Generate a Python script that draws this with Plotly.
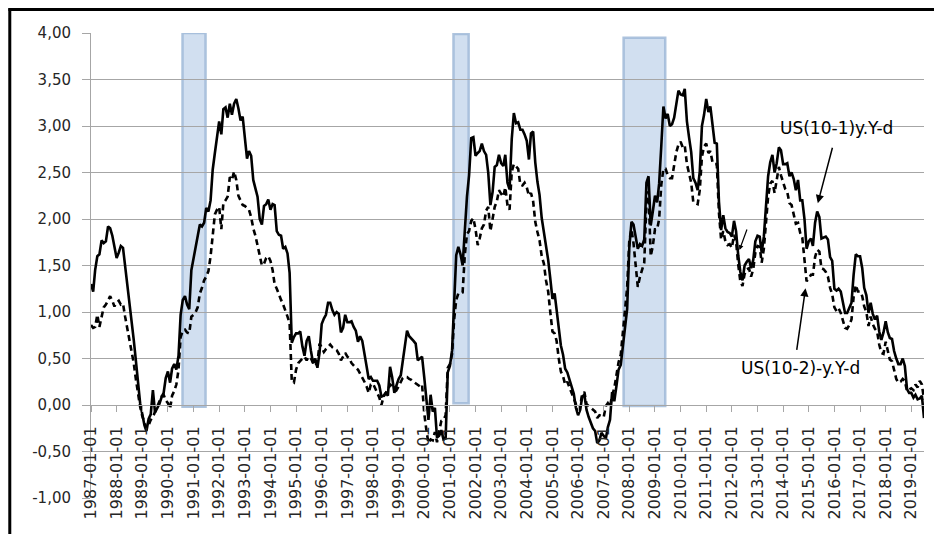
import pandas as pd
import plotly.graph_objects as go

# US 10y-1y spread (solid), monthly, first point plotted at 1987-01
spread_10_1 = (
    [1.30, 1.22, 1.45, 1.60, 1.62, 1.77, 1.74, 1.76, 1.92, 1.90, 1.82, 1.72]
    + [1.58, 1.64, 1.71, 1.69, 1.50, 1.32, 1.12, 0.92, 0.70, 0.48, 0.25, 0.02]
    + [-0.10, -0.22, -0.28, -0.15, -0.10, 0.16, -0.08, -0.04, 0.01, 0.08, 0.13, 0.29]
    + [0.36, 0.24, 0.39, 0.44, 0.38, 0.53, 0.97, 1.13, 1.17, 1.08, 1.03, 1.45]
    + [1.58, 1.71, 1.80, 1.94, 1.92, 1.96, 2.12, 2.08, 2.20, 2.53, 2.71, 2.88]
    + [3.05, 2.91, 3.18, 3.20, 3.09, 3.24, 3.12, 3.24, 3.29, 3.19, 3.06, 3.10]
    + [2.87, 2.65, 2.73, 2.68, 2.42, 2.34, 2.24, 2.00, 1.94, 2.14, 2.16, 2.21]
    + [2.10, 2.16, 2.15, 1.87, 1.83, 1.82, 1.68, 1.70, 1.63, 1.42, 0.67, 0.73]
    + [0.77, 0.77, 0.79, 0.63, 0.53, 0.69, 0.74, 0.58, 0.45, 0.50, 0.40, 0.56]
    + [0.87, 0.93, 0.97, 1.10, 1.10, 1.02, 0.97, 1.00, 0.98, 0.78, 0.83, 0.97]
    + [0.89, 0.89, 0.90, 0.84, 0.80, 0.68, 0.74, 0.69, 0.57, 0.42, 0.28, 0.30]
    + [0.26, 0.26, 0.26, 0.21, 0.09, 0.10, 0.13, 0.10, 0.41, 0.30, 0.13, 0.21]
    + [0.28, 0.32, 0.48, 0.66, 0.80, 0.74, 0.72, 0.69, 0.66, 0.48, 0.50, 0.52]
    + [0.30, 0.04, -0.16, 0.11, -0.07, -0.03, -0.35, -0.33, -0.27, -0.37, -0.36, 0.35]
    + [0.42, 0.59, 1.16, 1.61, 1.70, 1.62, 1.50, 1.91, 2.24, 2.47, 2.87, 2.88]
    + [2.68, 2.71, 2.73, 2.81, 2.73, 2.69, 2.50, 2.15, 2.29, 2.56, 2.58, 2.69]
    + [2.60, 2.57, 2.69, 2.39, 2.32, 2.86, 3.14, 3.03, 3.04, 2.96, 2.96, 2.91]
    + [2.84, 2.64, 2.92, 2.94, 2.61, 2.40, 2.26, 2.01, 1.87, 1.69, 1.56, 1.36]
    + [1.14, 1.20, 1.02, 0.81, 0.64, 0.54, 0.39, 0.35, 0.28, 0.21, 0.12, -0.03]
    + [-0.11, -0.05, 0.09, 0.11, -0.05, -0.13, -0.20, -0.25, -0.28, -0.41, -0.38, -0.30]
    + [-0.33, -0.36, -0.24, -0.16, 0.14, 0.04, 0.20, 0.38, 0.43, 0.65, 0.84, 1.03]
    + [1.69, 1.97, 1.94, 1.82, 1.68, 1.73, 1.71, 1.78, 2.39, 2.46, 1.93, 2.08]
    + [2.25, 2.18, 2.38, 2.79, 3.21, 3.08, 3.13, 3.00, 3.02, 3.09, 3.22, 3.38]
    + [3.34, 3.33, 3.40, 3.05, 2.88, 2.72, 2.44, 2.39, 2.31, 2.51, 3.00, 3.12]
    + [3.29, 3.15, 3.21, 2.98, 2.82, 2.81, 2.19, 1.88, 2.04, 1.90, 1.86, 1.85]
    + [1.81, 1.98, 1.87, 1.61, 1.43, 1.34, 1.50, 1.54, 1.57, 1.47, 1.56, 1.76]
    + [1.82, 1.81, 1.64, 1.81, 2.16, 2.46, 2.61, 2.69, 2.50, 2.60, 2.77, 2.74]
    + [2.59, 2.59, 2.60, 2.46, 2.50, 2.43, 2.31, 2.42, 2.20, 2.20, 2.00, 1.68]
    + [1.76, 1.79, 1.71, 1.96, 2.08, 2.02, 1.79, 1.80, 1.81, 1.78, 1.59, 1.55]
    + [1.25, 1.23, 1.25, 1.22, 1.09, 0.99, 0.99, 1.04, 1.10, 1.40, 1.62, 1.60]
    + [1.60, 1.47, 1.26, 1.18, 0.99, 1.10, 0.98, 0.92, 0.96, 0.79, 0.70, 0.78]
    + [0.90, 0.78, 0.72, 0.71, 0.58, 0.50, 0.44, 0.44, 0.50, 0.42, 0.17, 0.13]
    + [0.13, 0.08, 0.11, 0.06, 0.07, 0.10, -0.14]
)

# US 10y-2y spread (dashed)
spread_10_2 = (
    [0.86, 0.83, 0.84, 0.97, 0.84, 0.95, 1.05, 1.08, 1.12, 1.17, 1.12, 1.06]
    + [1.10, 1.12, 1.08, 1.09, 0.95, 0.82, 0.70, 0.60, 0.45, 0.28, 0.12, -0.02]
    + [-0.12, -0.20, -0.25, -0.22, -0.16, -0.13, -0.08, -0.02, 0.04, 0.09, 0.11, 0.05]
    + [0.02, -0.04, 0.10, 0.15, 0.22, 0.38, 0.73, 0.80, 0.81, 0.78, 0.77, 0.95]
    + [0.97, 1.00, 1.05, 1.20, 1.26, 1.34, 1.38, 1.44, 1.60, 1.85, 2.05, 2.10]
    + [2.13, 1.89, 2.17, 2.20, 2.24, 2.45, 2.42, 2.51, 2.42, 2.25, 2.20, 2.15]
    + [2.14, 2.12, 2.10, 2.02, 1.90, 1.82, 1.72, 1.60, 1.50, 1.52, 1.58, 1.60]
    + [1.55, 1.45, 1.30, 1.25, 1.18, 1.13, 1.08, 1.02, 0.95, 0.88, 0.25, 0.24]
    + [0.38, 0.45, 0.48, 0.50, 0.52, 0.48, 0.52, 0.50, 0.45, 0.42, 0.45, 0.66]
    + [0.62, 0.57, 0.60, 0.63, 0.65, 0.62, 0.60, 0.59, 0.55, 0.48, 0.52, 0.56]
    + [0.52, 0.50, 0.45, 0.42, 0.40, 0.38, 0.34, 0.30, 0.25, 0.20, 0.13, 0.22]
    + [0.23, 0.18, 0.13, 0.08, 0.00, 0.09, 0.13, 0.16, 0.22, 0.20, 0.18, 0.16]
    + [0.20, 0.25, 0.29, 0.30, 0.30, 0.28, 0.27, 0.25, 0.23, 0.22, 0.20, 0.22]
    + [-0.09, -0.27, -0.41, -0.37, -0.38, -0.29, -0.40, -0.28, -0.17, -0.16, -0.11, 0.40]
    + [0.44, 0.55, 0.91, 1.13, 1.20, 1.20, 1.21, 1.61, 1.84, 1.87, 1.98, 2.01]
    + [1.89, 1.72, 1.79, 1.90, 1.94, 2.09, 2.13, 1.87, 2.03, 2.13, 2.19, 2.31]
    + [2.27, 2.24, 2.34, 2.15, 2.10, 2.51, 2.59, 2.56, 2.54, 2.37, 2.36, 2.39]
    + [2.34, 2.25, 2.28, 2.19, 1.97, 1.86, 1.77, 1.60, 1.52, 1.34, 1.22, 1.00]
    + [0.79, 0.77, 0.69, 0.50, 0.36, 0.31, 0.22, 0.25, 0.19, 0.12, 0.07, 0.02]
    + [-0.05, -0.01, 0.12, 0.14, 0.01, -0.01, -0.03, -0.05, -0.07, -0.14, -0.11, -0.12]
    + [-0.13, -0.01, 0.02, -0.02, 0.10, 0.18, 0.33, 0.46, 0.54, 0.80, 0.98, 1.26]
    + [1.77, 1.89, 1.74, 1.52, 1.27, 1.38, 1.46, 1.53, 2.17, 2.30, 1.60, 1.71]
    + [1.89, 1.89, 2.00, 2.37, 2.54, 2.54, 2.47, 2.44, 2.44, 2.60, 2.72, 2.80]
    + [2.83, 2.77, 2.79, 2.59, 2.48, 2.39, 2.18, 2.17, 2.16, 2.31, 2.67, 2.78]
    + [2.81, 2.71, 2.73, 2.61, 2.59, 2.59, 2.07, 1.78, 1.87, 1.76, 1.72, 1.73]
    + [1.69, 1.83, 1.76, 1.51, 1.33, 1.28, 1.41, 1.46, 1.47, 1.38, 1.46, 1.64]
    + [1.71, 1.70, 1.53, 1.68, 1.97, 2.24, 2.38, 2.41, 2.28, 2.42, 2.56, 2.47]
    + [2.38, 2.32, 2.29, 2.17, 2.15, 2.03, 1.95, 1.96, 1.85, 1.80, 1.57, 1.33]
    + [1.36, 1.40, 1.40, 1.59, 1.67, 1.65, 1.47, 1.46, 1.43, 1.38, 1.26, 1.19]
    + [1.05, 1.01, 1.04, 0.99, 0.91, 0.83, 0.82, 0.86, 0.92, 1.16, 1.29, 1.22]
    + [1.22, 1.17, 1.06, 1.00, 0.85, 0.95, 0.87, 0.82, 0.79, 0.65, 0.56, 0.55]
    + [0.68, 0.56, 0.49, 0.47, 0.38, 0.28, 0.24, 0.25, 0.28, 0.26, 0.15, 0.17]
    + [0.18, 0.16, 0.22, 0.19, 0.26, 0.22, 0.06]
)

first_month = "1987-01-01"
x_tick_years = list(range(1987, 2020))
x_tick_labels = [f"{y}-01-01" for y in x_tick_years]
y_tick_values = [-1.0, -0.5, 0.0, 0.5, 1.0, 1.5, 2.0, 2.5, 3.0, 3.5, 4.0]
y_tick_labels = ["-1,00", "-0,50", "0,00", "0,50", "1,00", "1,50",
                 "2,00", "2,50", "3,00", "3,50", "4,00"]

# recession bands (shaded)
recession_start = ["1990-07-28", "2001-02-21", "2007-10-12"]
recession_end = ["1991-06-21", "2001-09-25", "2009-05-27"]
recession_low = [-0.02, 0.02, -0.01]
recession_high = [4.0, 3.99, 3.95]

label_10_1 = "US(10-1)y.Y-d"
label_10_2 = "US(10-2)-y.Y-d"

dates = pd.date_range(first_month, periods=len(spread_10_1), freq="MS")

fig = go.Figure()
fig.add_trace(go.Scatter(x=dates, y=spread_10_1, mode="lines", name=label_10_1,
                         line=dict(color="black", width=2.6)))
fig.add_trace(go.Scatter(x=dates, y=spread_10_2, mode="lines", name=label_10_2,
                         line=dict(color="black", width=2.6, dash="6px,4px")))

shapes = []
for s, e, lo, hi in zip(recession_start, recession_end, recession_low, recession_high):
    shapes.append(dict(type="rect", xref="x", yref="y", x0=s, x1=e, y0=lo, y1=hi,
                       fillcolor="rgba(190,210,234,0.7)",
                       line=dict(color="rgba(160,186,216,0.85)", width=2.5),
                       layer="below"))
# outer frame (left and top edges of the original picture)
shapes.append(dict(type="line", xref="paper", yref="paper", x0=-0.0975, x1=-0.0975,
                   y0=-0.08, y1=1.053, line=dict(color="black", width=3)))
shapes.append(dict(type="line", xref="paper", yref="paper", x0=-0.0992, x1=1.02,
                   y0=1.0505, y1=1.0505, line=dict(color="black", width=3)))

annotations = [
    dict(x="2016-01-28", y=2.975, xref="x", yref="y", text=label_10_1, showarrow=False,
         font=dict(size=17, color="black")),
    dict(x="2014-09-03", y=0.395, xref="x", yref="y", text=label_10_2, showarrow=False,
         font=dict(size=17, color="black")),
    dict(x="2015-05-10", y=2.17, xref="x", yref="y", text="", showarrow=True,
         ax=15, ay=-57, arrowhead=2, arrowsize=1.1, arrowwidth=1.5, arrowcolor="black"),
    dict(x="2014-11-16", y=1.255, xref="x", yref="y", text="", showarrow=True,
         ax=-9, ay=63, arrowhead=2, arrowsize=1.1, arrowwidth=1.5, arrowcolor="black"),
    dict(x="2012-04-19", y=1.667, xref="x", yref="y", text="", showarrow=True,
         ax=8, ay=-22, arrowhead=2, arrowsize=0.8, arrowwidth=1.2, arrowcolor="black"),
]

fig.update_layout(
    width=934, height=534,
    margin=dict(l=91, r=10, t=33, b=36, autoexpand=False),
    paper_bgcolor="white", plot_bgcolor="white",
    showlegend=False,
    font=dict(family="DejaVu Sans", size=15, color="#262626"),
    shapes=shapes, annotations=annotations,
)
fig.update_xaxes(
    type="date", range=[first_month, "2019-07-01"],
    anchor="free", position=0.2,
    showline=True, linecolor="#a6a6a6", linewidth=1,
    ticks="outside", ticklen=6, tickcolor="#a6a6a6", tickwidth=1,
    tickvals=[f"{y}-01-01" for y in x_tick_years], ticktext=x_tick_labels,
    tickangle=-90, tickfont=dict(size=16, color="#262626"),
    showgrid=False, zeroline=False, ticklabelstandoff=8,
)
fig.update_yaxes(
    range=[-1, 4], tickvals=y_tick_values, ticktext=y_tick_labels,
    showgrid=True, gridcolor="#a6a6a6", gridwidth=1,
    showline=True, linecolor="#a6a6a6", linewidth=1,
    ticks="outside", ticklen=8, tickcolor="#a6a6a6",
    zeroline=False, ticklabelstandoff=8,
    tickfont=dict(size=15, color="#262626"),
)

fig.write_html("out.html", config={"displayModeBar": False},
               post_script="document.body.style.margin='0';")
